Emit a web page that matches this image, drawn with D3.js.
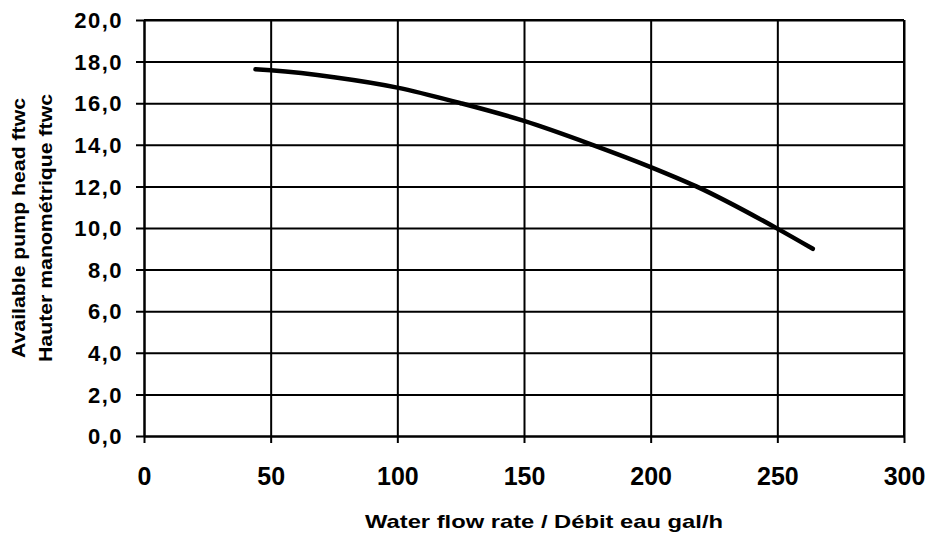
<!DOCTYPE html>
<html><head><meta charset="utf-8">
<script src="https://cdn.jsdelivr.net/npm/d3@7"></script>
<style>body{margin:0;background:#fff}svg{display:block}</style>
</head><body>
<svg id="c" width="930" height="538"></svg>
<script>
const flow = [44, 50, 75, 100, 125, 150, 177, 200, 218, 250, 264];
const head = [17.63, 17.58, 17.25, 16.75, 16.0, 15.15, 14.0, 12.93, 12.0, 9.97, 9.0];
const xTicks = [0, 50, 100, 150, 200, 250, 300];
const yTicks = [0, 2, 4, 6, 8, 10, 12, 14, 16, 18, 20];
const xTitle = "Water flow rate / Débit eau gal/h";
const yTitle = ["Available pump head ftwc", "Hauter manométrique ftwc"];

const svg = d3.select("#c");
const m = {l: 144, r: 904, t: 20, b: 436};
const x = d3.scaleLinear().domain([0, 300]).range([m.l, m.r]);
const y = d3.scaleLinear().domain([0, 20]).range([m.b, m.t]);
const font = "'Liberation Sans', Arial, sans-serif";

// horizontal grid
const gy = svg.append("g").attr("transform", `translate(${m.l},0)`)
  .call(d3.axisLeft(y).tickValues(yTicks).tickSize(-(m.r - m.l)).tickSizeOuter(0)
    .tickFormat(d => d3.format(".1f")(d).replace(".", ",")));
gy.select(".domain").attr("stroke", "#000").attr("stroke-width", 2);
gy.selectAll(".tick line").attr("stroke", "#000").attr("stroke-width", 2).attr("x1", -8);
gy.selectAll(".tick text").attr("font-family", font).attr("font-weight", "bold")
  .attr("font-size", 22).attr("letter-spacing", 1.5).attr("fill", "#000").attr("x", -21).attr("dy", "0.35em");

// vertical grid
const gx = svg.append("g").attr("transform", `translate(0,${m.b})`)
  .call(d3.axisBottom(x).tickValues(xTicks).tickSize(-(m.b - m.t)).tickSizeOuter(0).tickFormat(d3.format("d")));
gx.select(".domain").attr("stroke", "#000").attr("stroke-width", 2);
gx.selectAll(".tick line").attr("stroke", "#000").attr("stroke-width", 2).attr("y1", 7);
gx.selectAll(".tick text").attr("font-family", font).attr("font-weight", "bold")
  .attr("font-size", 25).attr("fill", "#000").attr("y", 49).attr("dy", 0);

// top and right border
svg.append("line").attr("x1", m.l).attr("x2", m.r).attr("y1", m.t).attr("y2", m.t).attr("stroke", "#000").attr("stroke-width", 2);
svg.append("line").attr("x1", m.r).attr("x2", m.r).attr("y1", m.t).attr("y2", m.b).attr("stroke", "#000").attr("stroke-width", 2);

// curve
const pts = flow.map((f, i) => [f, head[i]]);
svg.append("path").datum(pts)
  .attr("d", d3.line().x(d => x(d[0])).y(d => y(d[1])).curve(d3.curveMonotoneX))
  .attr("fill", "none").attr("stroke", "#000").attr("stroke-width", 4.5).attr("stroke-linecap", "round");

// titles
svg.append("text").attr("x", 544).attr("y", 528).attr("text-anchor", "middle")
  .attr("font-family", font).attr("font-weight", "bold").attr("font-size", 19)
  .attr("textLength", 358).attr("lengthAdjust", "spacingAndGlyphs").text(xTitle);
const ypos = [[25, 228, 260], [52, 228, 268]];
yTitle.forEach((t, i) => {
  svg.append("text").attr("transform", `translate(${ypos[i][0]},${ypos[i][1]}) rotate(-90)`)
    .attr("text-anchor", "middle").attr("font-family", font).attr("font-weight", "bold")
    .attr("font-size", 19).attr("textLength", ypos[i][2]).attr("lengthAdjust", "spacingAndGlyphs").text(t);
});
</script>
</body></html>
